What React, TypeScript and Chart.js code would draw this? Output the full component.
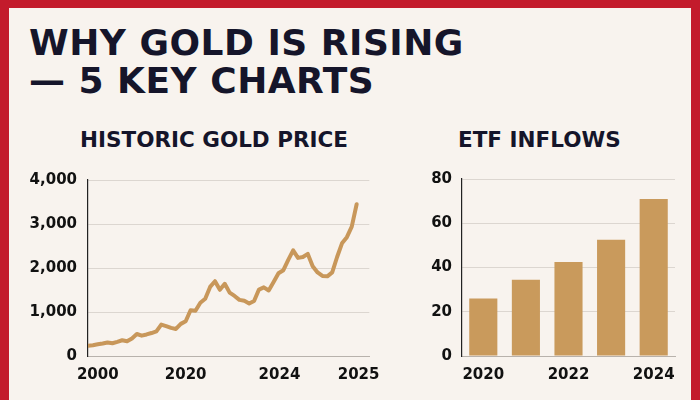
import React, { useEffect, useRef } from "react";
import { Chart, registerables } from "chart.js";

Chart.register(...registerables);

// ---------- DATA ----------
const goldPrice = [
  230, 245, 265, 285, 308, 290, 322, 358, 335, 400,
  500, 462, 490, 522, 560, 715, 680, 640, 615, 730,
  790, 1040, 1030, 1210, 1300, 1570, 1700, 1505, 1640, 1440,
  1365, 1275, 1255, 1195, 1250, 1510, 1560, 1490, 1680, 1880,
  1950, 2185, 2400, 2230, 2250, 2320, 2040, 1900, 1820, 1810,
  1900, 2250, 2560, 2700, 2940, 3450,
];
const goldTickLabels = ["2000", "2020", "2024", "2025"];
const goldTickPositions = [2, 20, 39.2, 55.4];
const goldXMax = 57.6;

const etfCategories = ["2020", "2021", "2022", "2023", "2024"];
const etfValues = [26, 34.5, 42.5, 52.5, 71];
const etfTickLabels = ["2020", "", "2022", "", "2024"];

// ---------- STYLE ----------
const BG = "#f8f3ee";
const RED = "#c31b2c";
const GOLD = "#c8975a";
const BAR = "#c99a5c";
const INK = "#15152a";
const GRID = "#dcd6d0";
const TICK_FONT = { family: "'DejaVu Sans', sans-serif", size: 15, weight: "bold" as const };

function LineChart() {
  const ref = useRef<HTMLCanvasElement | null>(null);
  useEffect(() => {
    if (!ref.current) return;
    const chart = new Chart(ref.current, {
      type: "line",
      data: {
        datasets: [
          {
            data: goldPrice.map((v, i) => ({ x: i, y: v })),
            borderColor: GOLD,
            borderWidth: 4,
            pointRadius: 0,
            tension: 0,
            borderJoinStyle: "round",
            borderCapStyle: "round",
          },
        ],
      },
      options: {
        animation: false,
        responsive: false,
        maintainAspectRatio: false,
        layout: { padding: { top: 12, right: 14, bottom: 0, left: 0 } },
        plugins: { legend: { display: false }, tooltip: { enabled: false } },
        scales: {
          x: {
            type: "linear",
            min: 0,
            max: goldXMax,
            grid: { display: false, drawTicks: false },
            border: { display: true, color: "#b8b2ac", width: 1 },
            afterBuildTicks: (scale: any) => {
              scale.ticks = goldTickPositions.map((v) => ({ value: v }));
            },
            afterFit: (scale: any) => {
              scale.height = 34;
            },
            ticks: {
              autoSkip: false,
              maxRotation: 0,
              padding: 10,
              color: "#111",
              font: TICK_FONT,
              callback: (_v: any, i: number) => goldTickLabels[i],
            },
          },
          y: {
            min: 0,
            max: 4000,
            grid: { color: GRID, drawTicks: false, lineWidth: 1 },
            border: { display: true, color: "#222", width: 1.2 },
            afterFit: (scale: any) => {
              scale.width = 68;
            },
            ticks: {
              stepSize: 1000,
              padding: 11,
              color: "#111",
              font: TICK_FONT,
              callback: (v: any) => Number(v).toLocaleString("en-US"),
            },
          },
        },
      },
    });
    return () => chart.destroy();
  }, []);
  return (
    <canvas
      ref={ref}
      width={370}
      height={230}
      style={{ position: "absolute", left: 20, top: 160, width: 370, height: 230 }}
    />
  );
}

function BarChart() {
  const ref = useRef<HTMLCanvasElement | null>(null);
  useEffect(() => {
    if (!ref.current) return;
    const chart = new Chart(ref.current, {
      type: "bar",
      data: {
        labels: etfCategories,
        datasets: [
          {
            data: etfValues,
            backgroundColor: BAR,
            borderWidth: 0,
            barPercentage: 0.66,
            categoryPercentage: 1,
          },
        ],
      },
      options: {
        animation: false,
        responsive: false,
        maintainAspectRatio: false,
        layout: { padding: { top: 12, right: 15, bottom: 0, left: 0 } },
        plugins: { legend: { display: false }, tooltip: { enabled: false } },
        scales: {
          x: {
            grid: { display: false, drawTicks: false },
            border: { display: true, color: "#b8b2ac", width: 1 },
            afterFit: (scale: any) => {
              scale.height = 34;
            },
            ticks: {
              autoSkip: false,
              maxRotation: 0,
              padding: 10,
              color: "#111",
              font: TICK_FONT,
              callback: (_v: any, i: number) => etfTickLabels[i],
            },
          },
          y: {
            min: 0,
            max: 80,
            grid: { color: GRID, drawTicks: false, lineWidth: 1 },
            border: { display: true, color: "#222", width: 1.2 },
            afterFit: (scale: any) => {
              scale.width = 62;
            },
            ticks: {
              stepSize: 20,
              padding: 10,
              color: "#111",
              font: TICK_FONT,
            },
          },
        },
      },
    });
    return () => chart.destroy();
  }, []);
  return (
    <canvas
      ref={ref}
      width={290}
      height={230}
      style={{ position: "absolute", left: 400, top: 160, width: 290, height: 230 }}
    />
  );
}

export default function App() {
  const titleStyle: React.CSSProperties = {
    position: "absolute",
    left: 29,
    fontFamily: "'DejaVu Sans', sans-serif",
    fontWeight: 700,
    fontSize: 36,
    lineHeight: "38px",
    color: INK,
    whiteSpace: "nowrap",
    letterSpacing: 0.5,
  };
  const subStyle: React.CSSProperties = {
    position: "absolute",
    top: 129,
    fontFamily: "'DejaVu Sans', sans-serif",
    fontWeight: 700,
    fontSize: 21.5,
    lineHeight: "21.5px",
    color: INK,
    whiteSpace: "nowrap",
  };
  return (
    <div
      style={{
        position: "fixed",
        left: 0,
        top: 0,
        width: 700,
        height: 400,
        background: BG,
        overflow: "hidden",
      }}
    >
      <div style={{ position: "absolute", left: 0, top: 0, width: 700, height: 8, background: RED }} />
      <div style={{ position: "absolute", left: 0, top: 0, width: 9, height: 400, background: RED }} />
      <div style={{ position: "absolute", left: 691, top: 0, width: 9, height: 400, background: RED }} />
      <div style={{ ...titleStyle, top: 23.5 }}>WHY GOLD IS RISING</div>
      <div style={{ ...titleStyle, top: 61.5 }}>— 5 KEY CHARTS</div>
      <div style={{ ...subStyle, left: 80 }}>HISTORIC GOLD PRICE</div>
      <div style={{ ...subStyle, left: 458 }}>ETF INFLOWS</div>
      <LineChart />
      <BarChart />
    </div>
  );
}
